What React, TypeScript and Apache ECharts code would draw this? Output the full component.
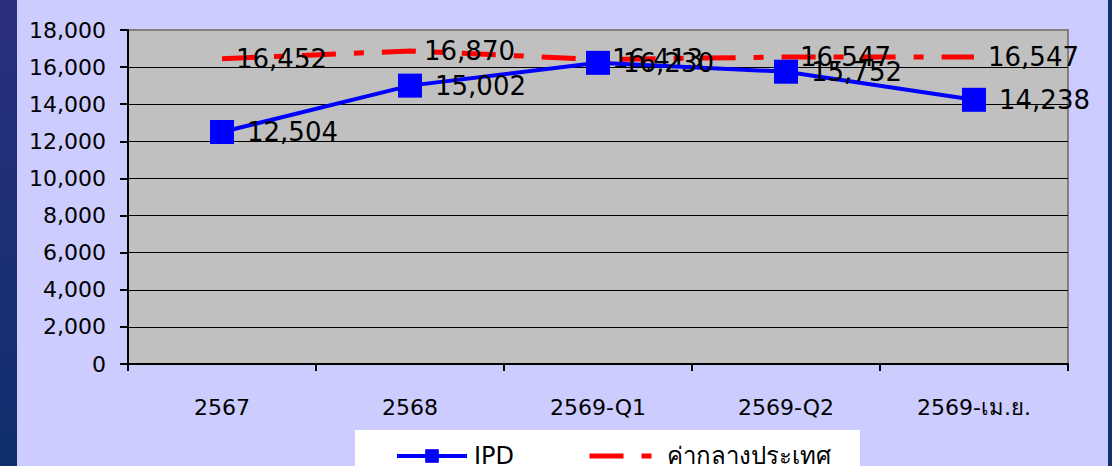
import React, { useEffect, useRef } from "react";
import * as echarts from "echarts";

const categories = ["2567", "2568", "2569-Q1", "2569-Q2", "2569-เม.ย."];
const ipdValues = [12504, 15002, 16230, 15752, 14238];
const nationalValues = [16452, 16870, 16413, 16547, 16547];
const seriesNames = ["IPD", "ค่ากลางประเทศ"];

const FONT = "'DejaVu Sans', 'Noto Sans', sans-serif";

export default function App() {
  const ref = useRef<HTMLDivElement>(null);
  useEffect(() => {
    if (!ref.current) return;
    const chart = echarts.init(ref.current, undefined, { renderer: "svg" });
    const fmt = (v: number) => v.toLocaleString("en-US");
    const dataLabel = {
      show: true,
      position: "right",
      distance: 13,
      color: "#000",
      fontSize: 26,
      fontFamily: FONT,
      formatter: (p: any) => fmt(p.value),
    };
    chart.setOption({
      animation: false,
      backgroundColor: "#ccccff",
      textStyle: { fontFamily: FONT },
      graphic: [
        {
          type: "rect",
          shape: { x: 0, y: 0, width: 17, height: 466 },
          style: {
            fill: new echarts.graphic.LinearGradient(0, 0, 0, 1, [
              { offset: 0, color: "#2b2f7f" },
              { offset: 1, color: "#0f2f6e" },
            ]),
          },
          silent: true,
        },
        {
          type: "rect",
          shape: { x: 1108, y: 0, width: 4, height: 466 },
          style: { fill: "#12306f" },
          silent: true,
        },
        {
          type: "rect",
          shape: { x: 355, y: 430, width: 505, height: 40 },
          style: { fill: "#ffffff" },
          silent: true,
          z: -1,
        },
      ],
      grid: {
        left: 128,
        right: 44,
        top: 30,
        bottom: 102,
        show: true,
        backgroundColor: "#c0c0c0",
        borderColor: "#808080",
        borderWidth: 2,
      },
      legend: {
        left: 395,
        top: 444,
        itemWidth: 70,
        itemHeight: 17,
        itemGap: 73,
        padding: 0,
        lineStyle: { width: "inherit" },
        textStyle: { fontSize: 24, color: "#000", fontFamily: FONT, padding: [0, 0, 0, 2] },
        data: seriesNames,
      },
      xAxis: {
        type: "category",
        data: categories,
        boundaryGap: true,
        axisLine: { lineStyle: { color: "#000", width: 2 } },
        axisTick: { show: true, length: 7, alignWithLabel: false, lineStyle: { color: "#000", width: 2 } },
        axisLabel: { color: "#000", fontSize: 22, margin: 32, fontFamily: FONT },
      },
      yAxis: {
        type: "value",
        min: 0,
        max: 18000,
        interval: 2000,
        axisLine: { show: true, lineStyle: { color: "#000", width: 2 } },
        axisTick: { show: true, length: 8, lineStyle: { color: "#000", width: 2 } },
        axisLabel: { color: "#000", fontSize: 22, margin: 22, formatter: fmt, fontFamily: FONT },
        splitLine: { show: true, showMaxLine: false, lineStyle: { color: "#000", width: 1 } },
      },
      series: [
        {
          name: seriesNames[1],
          type: "line",
          data: nationalValues,
          symbol: "circle",
          symbolSize: 2,
          showSymbol: true,
          lineStyle: { color: "#ff0000", width: 5, type: [34, 18, 10, 18] },
          itemStyle: { color: "rgba(255,0,0,0)", borderWidth: 0 },
          label: dataLabel,
          z: 2,
        },
        {
          name: seriesNames[0],
          type: "line",
          data: ipdValues,
          symbol: "rect",
          symbolSize: 24,
          lineStyle: { color: "#0000ff", width: 4 },
          itemStyle: { color: "#0000ff" },
          label: dataLabel,
          z: 3,
        },
      ],
    });
    return () => chart.dispose();
  }, []);
  return (
    <div
      ref={ref}
      style={{ position: "fixed", left: 0, top: 0, width: 1112, height: 466 }}
    />
  );
}
